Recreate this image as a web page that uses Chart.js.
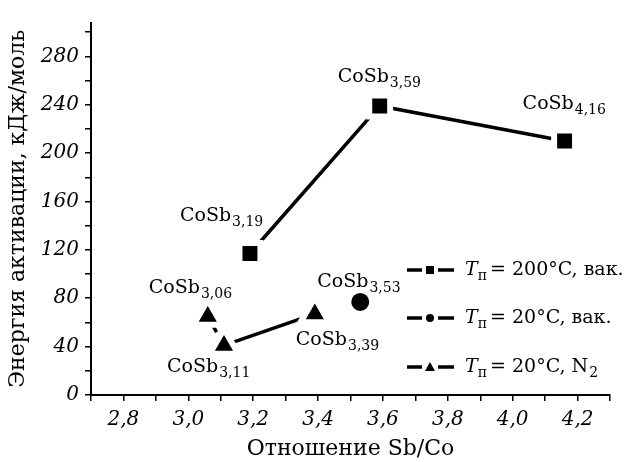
<!DOCTYPE html>
<html>
<head>
<meta charset="utf-8">
<script src="https://cdn.jsdelivr.net/npm/chart.js@4.4.0/dist/chart.umd.min.js"></script>
<style>
  html, body { margin: 0; padding: 0; background: #fff; }
  #wrap { width: 633px; height: 462px; }
</style>
</head>
<body>
<div id="wrap"><canvas id="Chart"></canvas></div>
<script>
// Sb/Co ratio (x) vs activation energy, kJ/mol (y)
const sqX = [3.19, 3.59, 4.16];     // T = 200°C, vacuum
const sqY = [117, 239, 210];
const circX = [3.53];               // T = 20°C, vacuum
const circY = [77];
const triX = [3.06, 3.11, 3.39];    // T = 20°C, N2
const triY = [65, 41, 67];

const xTickLabels = [2.8, 3.0, 3.2, 3.4, 3.6, 3.8, 4.0, 4.2];
const yTickLabels = [0, 40, 80, 120, 160, 200, 240, 280];

const legendText = ['= 200°C, вак.', '= 20°C, вак.', '= 20°C, N'];
const legendSub = ['', '', '2'];
const legendMarks = ['rect', 'circle', 'triangle'];

// label offsets from each marker (text left, baseline)
const sqLabelPos = [[-70, -32], [-42, -24], [-42, -32]];
const circLabelPos = [[-43, -15]];
const triLabelPos = [[-59, -23], [-57, 27], [-19, 31]];

const FONT = '"DejaVu Serif", serif';

function pts(xs, ys) {
    return xs.map((x, i) => ({ x: x, y: ys[i] }));
}

function fmt(v, d) {
    return v.toFixed(d).replace('.', ',');
}

// text with a trailing subscript
function drawSub(ctx, x, y, main, sub, size) {
    ctx.font = size + 'px ' + FONT;
    ctx.fillText(main, x, y);
    const w = ctx.measureText(main).width;
    ctx.font = Math.round(size * 0.72) + 'px ' + FONT;
    ctx.fillText(sub, x + w + 1, y + 5);
}

const labelPlugin = {
    id: 'pointLabels',
    afterDatasetsDraw(chart) {
        const ctx = chart.ctx;
        const offsets = [sqLabelPos, circLabelPos, triLabelPos];
        ctx.save();
        ctx.fillStyle = '#000';
        ctx.textBaseline = 'alphabetic';
        ctx.textAlign = 'left';
        chart.data.datasets.forEach((ds, di) => {
            const meta = chart.getDatasetMeta(di);
            meta.data.forEach((el, i) => {
                const o = offsets[di][i];
                drawSub(ctx, el.x + o[0], el.y + o[1], 'CoSb', fmt(ds.data[i].x, 2), 19);
            });
        });
        ctx.restore();
    }
};

// legend inside the plot: line - marker - line, then T_п = ...
const legendPlugin = {
    id: 'innerLegend',
    afterDraw(chart) {
        const ctx = chart.ctx;
        const rows = [270, 318, 367];
        ctx.save();
        ctx.fillStyle = '#000';
        ctx.strokeStyle = '#000';
        ctx.lineWidth = 3.5;
        rows.forEach((y, i) => {
            ctx.beginPath();
            ctx.moveTo(407, y); ctx.lineTo(422, y);
            ctx.moveTo(438, y); ctx.lineTo(454, y);
            ctx.stroke();
            ctx.beginPath();
            if (legendMarks[i] === 'rect') {
                ctx.rect(426, y - 4, 8, 8);
            } else if (legendMarks[i] === 'circle') {
                ctx.arc(430, y, 4, 0, Math.PI * 2);
            } else {
                ctx.moveTo(430, y - 5); ctx.lineTo(435, y + 4); ctx.lineTo(425, y + 4);
                ctx.closePath();
            }
            ctx.fill();

            const base = y + 5;
            ctx.font = 'italic 19px ' + FONT;
            ctx.fillText('T', 465, base);
            let x = 465 + ctx.measureText('T').width;
            ctx.font = '14px ' + FONT;
            ctx.fillText('п', x, base + 5);
            x += ctx.measureText('п').width + 3;
            if (legendSub[i]) {
                drawSub(ctx, x, base, legendText[i], legendSub[i], 19);
            } else {
                ctx.font = '19px ' + FONT;
                ctx.fillText(legendText[i], x, base);
            }
        });
        ctx.restore();
    }
};

const pointStyleBase = {
    borderColor: '#000',
    backgroundColor: '#000',
    pointBackgroundColor: '#000',
    pointBorderColor: '#fff',
    pointBorderWidth: 6,
    borderWidth: 3.5,
    pointHoverRadius: 0
};

var ctx = document.getElementById('Chart').getContext('2d');
var myChart = new Chart(ctx, {
    type: 'scatter',
    data: {
        datasets: [
            Object.assign({
                label: 'T = 200°C, вак.',
                data: pts(sqX, sqY),
                showLine: true,
                pointStyle: 'rect',
                pointRadius: 14.8
            }, pointStyleBase),
            Object.assign({
                label: 'T = 20°C, вак.',
                data: pts(circX, circY),
                showLine: false,
                pointStyle: 'circle',
                pointRadius: 12
            }, pointStyleBase),
            Object.assign({
                label: 'T = 20°C, N2',
                data: pts(triX, triY),
                showLine: true,
                pointStyle: 'triangle',
                pointRadius: 16.5,
                segment: {
                    borderDash: c => c.p0DataIndex === 0 ? [7, 4] : undefined
                }
            }, pointStyleBase)
        ]
    },
    options: {
        responsive: true,
        maintainAspectRatio: false,
        animation: false,
        devicePixelRatio: 1,
        layout: { padding: { left: 0, right: 23, top: 13, bottom: 0 } },
        plugins: {
            legend: { display: false },
            tooltip: { enabled: false }
        },
        scales: {
            x: {
                type: 'linear',
                min: 2.7,
                max: 4.3,
                afterFit: s => { s.height = 67; },
                ticks: {
                    stepSize: 0.1,
                    autoSkip: false,
                    maxRotation: 0,
                    padding: 7,
                    color: '#000',
                    font: { family: FONT, style: 'italic', size: 20 },
                    callback: v => {
                        const k = Math.round(v * 10);
                        return xTickLabels.some(t => Math.round(t * 10) === k) ? fmt(k / 10, 1) : '';
                    }
                },
                grid: { drawOnChartArea: false, drawTicks: true, tickLength: 6, color: '#000', lineWidth: 1.5 },
                border: { display: true, color: '#000', width: 2 },
                title: {
                    display: true,
                    text: 'Отношение Sb/Co',
                    color: '#000',
                    font: { family: FONT, size: 22 },
                    padding: { top: 0, bottom: 0 }
                }
            },
            y: {
                min: 0,
                max: 308,
                afterFit: s => { s.width = 91; },
                ticks: {
                    stepSize: 20,
                    includeBounds: false,
                    autoSkip: false,
                    padding: 6,
                    color: '#000',
                    font: { family: FONT, style: 'italic', size: 20 },
                    callback: v => yTickLabels.includes(v) ? String(v) : ''
                },
                grid: { drawOnChartArea: false, drawTicks: true, tickLength: 6, color: '#000', lineWidth: 1.5 },
                border: { display: true, color: '#000', width: 2 },
                title: {
                    display: true,
                    text: 'Энергия активации, кДж/моль',
                    color: '#000',
                    font: { family: FONT, size: 22 },
                    padding: { top: 5, bottom: 0 }
                }
            }
        }
    },
    plugins: [labelPlugin, legendPlugin]
});
</script>
</body>
</html>
